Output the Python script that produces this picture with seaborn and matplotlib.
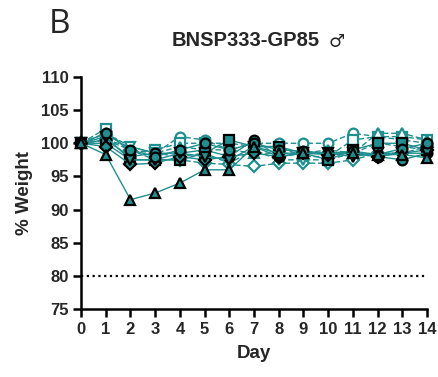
import matplotlib
matplotlib.use("Agg")
import matplotlib.pyplot as plt
import seaborn as sns
import numpy as np
import pandas as pd

days = list(range(15))

# solid-line animals (filled markers, black edge)
solid_circle = [100, 100.5, 98, 98.5, 98.5, 99, 98, 100.5, 98, 98.5, 98.5, 98.5, 98, 97.5, 98.5]
solid_square = [100, 100, 97.5, 97.5, 97.5, 98.5, 100.5, 99.5, 99.5, 98.5, 97.5, 99, 100, 100, 99]
solid_triangle = [100, 98.3, 91.5, 92.5, 94, 96, 96, 99.5, 98.5, 98.5, 98.5, 98.5, 98.3, 98.3, 97.8]
solid_diamond = [100, 99.5, 96.8, 97, 98, 97.5, 98, 98.5, 98, 98.5, 98.3, 98.5, 98, 98.5, 99]
solid_down = [100, 101, 97.5, 97.5, 98.5, 98, 97.5, 99.5, 98, 98.5, 98.5, 98, 98.5, 98.5, 98.5]
solid_hex = [100, 101.5, 99, 98, 99, 100, 99, 100, 99, 98.8, 98.5, 98.8, 98.3, 99.2, 100]

# dashed-line animals (open markers)
dash_circle = [100, 101.5, 99, 98.5, 101, 100.5, 99, 100, 100, 100, 100, 101.5, 101, 100.5, 100]
dash_square = [100, 102.2, 98.5, 99, 100, 100, 100, 99.5, 99.5, 98, 98, 100.5, 101, 101, 100.5]
dash_triangle = [100, 101.5, 99.5, 98.5, 99.5, 99, 99, 98.5, 98.5, 98.5, 99, 98.5, 101.5, 101.5, 100.5]
dash_diamond = [100, 100.5, 99, 97.5, 97.5, 97, 96.8, 96.5, 97, 97, 97, 97.5, 98.5, 98.5, 99.5]
dash_down = [100, 100.5, 99.5, 98.5, 98, 98.5, 97, 99, 97.5, 97.5, 97.5, 98.5, 100, 99.5, 99]

threshold = 80

sns.set_style("white")
plt.rcParams['font.family'] = ['Liberation Sans', 'DejaVu Sans']

teal = "#1f8f8f"

fig = plt.figure(figsize=(4.38, 3.77), dpi=100)
ax = fig.add_axes([0.185, 0.180, 0.790, 0.616])

solid = [(solid_circle, 'o'), (solid_square, 's'), (solid_diamond, 'D'),
         (solid_down, 'v'), (solid_hex, 'o'), (solid_triangle, '^')]
dashed = [(dash_circle, 'o'), (dash_square, 's'), (dash_triangle, '^'),
          (dash_diamond, 'D'), (dash_down, 'v')]

for vals, m in dashed:
    sns.lineplot(x=days, y=vals, ax=ax, color=teal, linestyle=(0, (4, 2)), linewidth=1.0,
                 marker=m, markersize=7 if m != 'D' else 6, markerfacecolor='white',
                 markeredgecolor=teal, markeredgewidth=1.6, clip_on=False)
for vals, m in solid:
    sns.lineplot(x=days, y=vals, ax=ax, color=teal, linestyle='-', linewidth=1.0,
                 marker=m, markersize=7 if m != 'D' else 6, markerfacecolor=teal,
                 markeredgecolor='black', markeredgewidth=1.6, clip_on=False, zorder=3)

ax.plot([0, 14], [threshold, threshold], color='black', linestyle=(0, (1, 1.6)), linewidth=1.6)

ax.set_xlim(0, 14)
ax.set_ylim(75, 110)
ax.set_xticks(days)
ax.set_yticks(np.arange(75, 111, 5))
for s in ['top', 'right']:
    ax.spines[s].set_visible(False)
for s in ['left', 'bottom']:
    ax.spines[s].set_linewidth(1.8)
    ax.spines[s].set_color('black')
ax.tick_params(axis='both', direction='out', length=6, width=1.8, color='black',
               labelsize=12, pad=3, bottom=True, left=True)
for lab in ax.get_xticklabels() + ax.get_yticklabels():
    lab.set_fontweight('bold')

ax.set_xlabel("Day", fontsize=13.5, fontweight='bold', labelpad=6)
ax.set_ylabel("% Weight", fontsize=13.5, fontweight='bold', labelpad=6)

fig.text(0.56, 0.893, "BNSP333-GP85", fontsize=14.5, fontweight='bold', ha='center', va='center')
fig.text(0.768, 0.888, "♂", fontsize=13, ha='center', va='center', family=['DejaVu Sans'])
fig.text(0.135, 0.935, "B", fontsize=24, ha='center', va='center', family=['Open Sans', 'DejaVu Sans'])

fig.savefig("out.png", dpi=100)
